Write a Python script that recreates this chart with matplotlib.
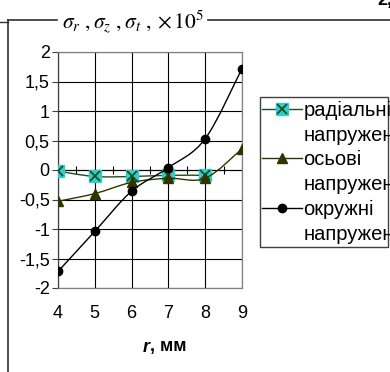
import numpy as np
import matplotlib
matplotlib.use('Agg')
import matplotlib.pyplot as plt
from matplotlib.path import Path
from matplotlib.patches import PathPatch, Rectangle
from matplotlib.lines import Line2D
from matplotlib.legend_handler import HandlerTuple

plt.rcParams['font.family'] = ['Liberation Sans', 'DejaVu Sans']
plt.rcParams['mathtext.fontset'] = 'stix'

# stresses vs radius, x10^5
r_mm = [4, 5, 6, 7, 8, 9]
sigma_r = [-0.02, -0.11, -0.11, -0.09, -0.09]          # radial, r = 4..8
sigma_z = [-0.53, -0.40, -0.21, -0.14, -0.14, 0.36]    # axial
sigma_t = [-1.72, -1.04, -0.36, 0.04, 0.53, 1.72]      # hoop

y_ticks = [-2, -1.5, -1, -0.5, 0, 0.5, 1, 1.5, 2]
y_ticklabels = ['-2', '-1,5', '-1', '-0,5', '0', '0,5', '1', '1,5', '2']
legend_rows = ['радіальні', 'напружені', 'осьові', 'напружені', 'окружні', 'напружені']

W, H = 390, 372


def smooth_path(xs, ys):
    # smoothed line: cubic bezier through every point
    pts = np.column_stack([xs, ys]).astype(float)
    n = len(pts)
    verts = [pts[0]]
    codes = [Path.MOVETO]
    for i in range(n - 1):
        p0 = pts[i - 1] if i > 0 else pts[i]
        p3 = pts[i + 2] if i + 2 < n else pts[i + 1]
        c1 = pts[i] + (pts[i + 1] - p0) / 6
        c2 = pts[i + 1] - (p3 - pts[i]) / 6
        verts += [c1, c2, pts[i + 1]]
        codes += [Path.CURVE4] * 3
    return Path(verts, codes)


fig = plt.figure(figsize=(W / 100, H / 100), dpi=100)
ax = fig.add_axes([58 / W, 1 - 288 / H, (242 - 58) / W, (288 - 52) / H])

c_r_line = '#1E4F1E'
c_r_face = '#33CCCC'
c_z = '#333300'
c_t = 'black'

# radial
ax.add_patch(PathPatch(smooth_path(r_mm[:len(sigma_r)], sigma_r), fill=False,
                       edgecolor=c_r_line, lw=1.0, zorder=3))
h_r1, = ax.plot(r_mm[:len(sigma_r)], sigma_r, ls='none', marker='s', ms=9,
                mfc=c_r_face, mec=c_r_face, zorder=4)
h_r2, = ax.plot(r_mm[:len(sigma_r)], sigma_r, ls='none', marker='x', ms=7,
                mew=1.3, color=c_r_line, zorder=4)

# axial
ax.add_patch(PathPatch(smooth_path(r_mm, sigma_z), fill=False,
                       edgecolor=c_z, lw=1.0, zorder=5))
h_z, = ax.plot(r_mm, sigma_z, ls='none', marker='^', ms=7.5,
               mfc=c_z, mec=c_z, zorder=6)

# hoop
ax.add_patch(PathPatch(smooth_path(r_mm, sigma_t), fill=False,
                       edgecolor=c_t, lw=1.0, zorder=7))
h_t, = ax.plot(r_mm, sigma_t, ls='none', marker='o', ms=6,
               mfc=c_t, mec=c_t, zorder=8)

ax.set_xlim(r_mm[0], r_mm[-1])
ax.set_ylim(-2, 2)
ax.set_xticks(r_mm)
ax.set_xticklabels([str(v) for v in r_mm], fontsize=13)
ax.set_yticks(y_ticks)
ax.set_yticklabels(y_ticklabels, fontsize=13)
ax.tick_params(axis='x', length=0, pad=12)
ax.tick_params(axis='y', length=4, width=0.8, color='#404040', pad=2, direction='out')
ax.grid(True, color='black', lw=0.8)
for side in ['top', 'right', 'bottom']:
    ax.spines[side].set_color('#808080')
ax.spines['left'].set_color('#404040')
for s in ax.spines.values():
    s.set_linewidth(0.9)

# axis title: italic r, upright units
fig.text(150 / W, 1 - 347 / H, 'r', fontsize=13, fontweight='bold', style='italic',
         ha='right', va='center')
fig.text(150 / W, 1 - 347 / H, ', мм', fontsize=13, fontweight='bold',
         ha='left', va='center')

# category axis crossing at zero with ticks between categories
sec = ax.secondary_xaxis(0.5)
sec.set_xticks([v + 0.5 for v in r_mm[:-1]])
sec.set_xticklabels([])
sec.tick_params(direction='inout', length=6, width=0.8, color='black')
sec.spines['bottom'].set_color('black')
sec.spines['bottom'].set_linewidth(0.8)

# legend
leg_r = Line2D([], [], color=c_r_line, lw=1.0)
leg_z = Line2D([], [], color=c_z, lw=1.0, marker='^', ms=7.5, mfc=c_z, mec=c_z)
leg_t = Line2D([], [], color=c_t, lw=1.0, marker='o', ms=6, mfc=c_t, mec=c_t)
blank = Line2D([], [], ls='none')
handles = [(leg_r, h_r1, h_r2), blank, leg_z, blank, leg_t, blank]
leg = fig.legend(handles, legend_rows, loc='upper left',
                 bbox_to_anchor=(262 / W, 1 - 101 / H), frameon=False,
                 fontsize=14.5, handlelength=2.0, handletextpad=0.05,
                 labelspacing=0.28, borderpad=0, borderaxespad=0,
                 handler_map={tuple: HandlerTuple(ndivide=1, pad=0)})
fig.patches.append(Rectangle((260 / W, 1 - 247 / H), 128 / W, 150 / H,
                             transform=fig.transFigure, fill=False,
                             edgecolor='#404040', lw=1.0))

# page frame and heading
fig.add_artist(Line2D([8 / W, 8 / W], [1 - 20 / H, 0], color='#303030', lw=1.2))
fig.add_artist(Line2D([8 / W, 57 / W], [1 - 20 / H, 1 - 20 / H], color='#303030', lw=1.2))
fig.add_artist(Line2D([208 / W, 1], [1 - 20 / H, 1 - 20 / H], color='#303030', lw=1.2))
fig.add_artist(Line2D([0, 8 / W], [1 - 22 / H, 1 - 22 / H], color='#303030', lw=1.0))
fig.text(62 / W, 1 - 22 / H, r'$\sigma_r\ ,\sigma_z\ ,\sigma_t\ ,\times10^5$',
         fontsize=15.5, ha='left', va='center')
fig.text(377 / W, 1 - 5 / H, '2,', fontsize=13, fontweight='bold', va='baseline')

fig.savefig('out.png', dpi=100)
